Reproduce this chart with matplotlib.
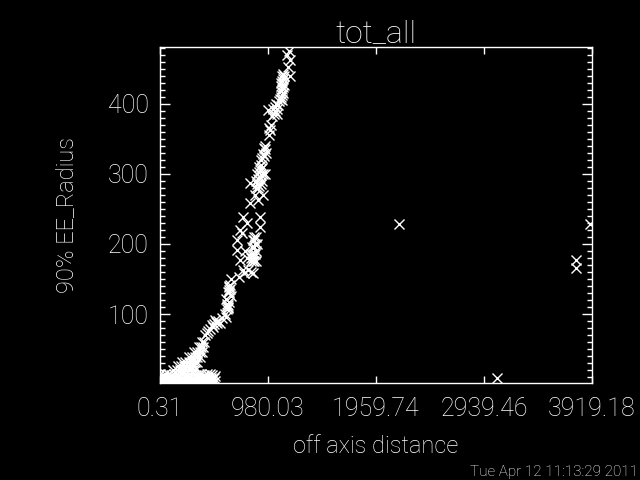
import numpy as np
import matplotlib
matplotlib.use("Agg")
import matplotlib.pyplot as plt
from matplotlib.ticker import FixedLocator, MultipleLocator

# -----------------------------
# Data
# -----------------------------
# dense band along the bottom
band_x = [0, 25, 50, 75, 100, 125, 150, 175, 200, 225, 250, 275, 300, 325, 350, 375, 400, 425, 450, 475, 495,
          12, 37, 62, 87, 112, 137, 162, 187, 212, 237, 262, 287, 312, 337, 362, 387, 412, 437, 462, 487,
          0, 25, 50, 75, 100, 125, 150, 175, 200, 225, 250, 275, 300, 325, 350, 375, 400, 425, 450, 475, 500]
band_y = [4, 4, 4, 4, 4, 4, 4, 4, 4, 4, 4, 4, 4, 4, 4, 4, 4, 4, 4, 4, 4,
          9, 9, 9, 9, 9, 9, 9, 9, 9, 9, 9, 9, 9, 9, 9, 9, 9, 9, 9, 9,
          14, 13, 15, 14, 13, 15, 14, 13, 15, 14, 13, 15, 14, 13, 15, 14, 13, 15, 14, 13, 12]

# wedge rising out of the band
wedge_x = [120, 150, 180, 210, 240, 270, 300, 320,
           160, 190, 220, 250, 280, 305,
           200, 230, 260, 290, 320, 335,
           265, 290, 315, 340, 360,
           310, 335, 360, 380,
           355, 375, 392,
           385, 400]
wedge_y = [20, 20, 20, 20, 20, 20, 20, 20,
           26, 26, 26, 26, 26, 26,
           32, 32, 32, 32, 32, 32,
           39, 39, 39, 39, 39,
           46, 46, 46, 46,
           53, 53, 53,
           60, 60]

# main rising curve
curve_x = [408, 425, 440, 455, 470, 490, 510, 530, 500, 520, 480,
           545, 560, 590, 600,
           608, 615, 620, 625, 610, 618, 612,
           617, 625, 630, 635, 622, 628, 632, 600, 640, 645,
           720, 760, 800, 830,
           825, 840, 855, 870, 830, 845, 860, 870, 835, 850, 865, 840, 855, 870, 850, 830, 845,
           698, 726, 753, 844, 698, 740, 725, 790, 755, 817, 890, 907, 907, 770, 790, 880,
           870, 885, 900, 915, 930, 875, 890, 905, 920, 935, 880, 895, 910, 925, 900, 915, 880,
           817, 860, 935, 950,
           915, 930, 945, 960, 935, 950, 955, 940,
           990, 998, 1005, 985,
           1016, 1030, 1045, 1060, 1075, 1080, 1040, 1055, 1025, 1065, 980,
           1090, 1100, 1110, 1120, 1095, 1105, 1115, 1125, 1100, 1110, 1120, 1105, 1115, 1125, 1095, 1110,
           1152, 1180, 1180, 1160, 1170]
curve_y = [70, 73, 76, 79, 84, 86, 89, 90, 91, 87, 82,
           87, 95, 100, 96,
           107, 110, 113, 117, 115, 108, 112,
           131, 134, 138, 141, 140, 131, 135, 122, 125, 150,
           153, 158, 163, 160,
           175, 175, 175, 175, 185, 185, 185, 190, 195, 195, 200, 205, 205, 210, 210, 180, 180,
           191, 177, 163, 158, 206, 215, 220, 230, 239, 258, 263, 239, 224, 190, 180, 200,
           280, 280, 282, 285, 290, 290, 292, 295, 298, 300, 300, 303, 305, 308, 310, 312, 285,
           287, 270, 270, 300,
           320, 322, 325, 330, 328, 335, 340, 337,
           355, 362, 370, 365,
           383, 386, 390, 393, 398, 404, 396, 400, 392, 385, 391,
           407, 410, 413, 416, 418, 421, 424, 427, 430, 433, 436, 440, 443, 440, 425, 405,
           470, 463, 439, 452, 475]

# far outliers
out_x = [2168, 3057, 3775, 3775, 3900]
out_y = [228, 9, 177, 166, 229]

xticks = [0.31, 980.03, 1959.74, 2939.46, 3919.18]
yticks = [100, 200, 300, 400]

x = np.array(band_x + wedge_x + curve_x + out_x)
y = np.array(band_y + wedge_y + curve_y + out_y)

# -----------------------------
# Plot
# -----------------------------
plt.rcParams['font.family'] = ['Roboto', 'DejaVu Sans']
plt.rcParams['font.weight'] = 'light'
plt.rcParams['axes.labelweight'] = 'light'
fig = plt.figure(figsize=(6.4, 4.8), dpi=100, facecolor='black')
ax = fig.add_axes([0.25, 0.202, 0.675, 0.70], facecolor='black')

ax.plot(x, y, linestyle='none', marker='x', ms=7, mew=1, color='white')

ax.set_xlim(xticks[0], xticks[-1])
ax.set_ylim(1.5, 481)
ax.xaxis.set_major_locator(FixedLocator(xticks))
ax.set_xticklabels([f'{v:.2f}' for v in xticks])
ax.yaxis.set_major_locator(FixedLocator(yticks))
ax.yaxis.set_minor_locator(MultipleLocator(10))

for s in ax.spines.values():
    s.set_color('white')
    s.set_linewidth(1)

ax.tick_params(axis='both', which='both', direction='in', colors='white',
               top=True, right=True, width=1, labelsize=18)
ax.tick_params(axis='x', which='major', length=5, pad=10)
ax.tick_params(axis='y', which='major', length=7, pad=8)
ax.tick_params(axis='y', which='minor', length=3.5)

ax.set_xlabel('off axis distance', color='white', fontsize=17)
ax.xaxis.set_label_coords(0.5, -0.155)
ax.set_ylabel('90% EE_Radius', color='white', fontsize=17)
ax.yaxis.set_label_coords(-0.19, 0.5)

fig.text(376 / 640, 1 - 42 / 480, 'tot_all', color='white', fontsize=23,
         ha='center', va='baseline')
fig.text(0.997, 0.003, 'Tue Apr 12 11:13:29 2011', color='white', fontsize=11,
         ha='right', va='bottom')

fig.savefig('out.png', dpi=100, facecolor='black')
